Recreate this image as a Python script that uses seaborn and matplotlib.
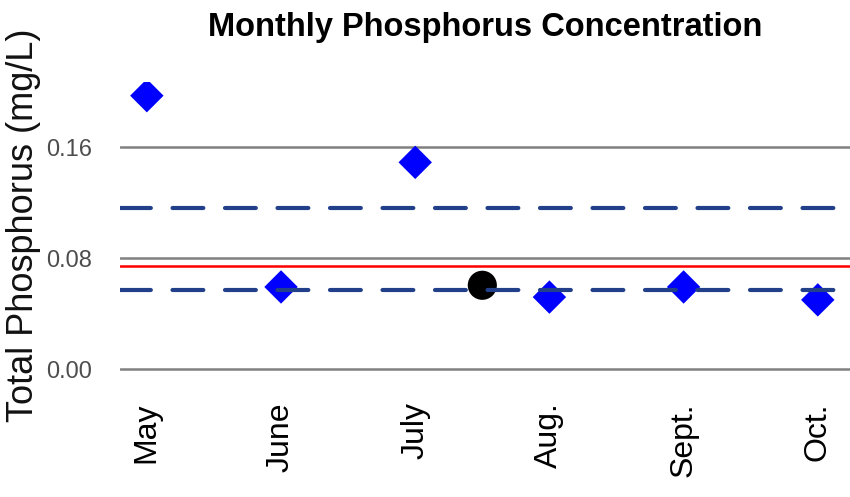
import matplotlib
matplotlib.use("Agg")
import matplotlib.pyplot as plt
import numpy as np
import pandas as pd
import seaborn as sns

# monthly total phosphorus readings (mg/L)
months = ["May", "June", "July", "Aug.", "Sept.", "Oct."]
phosphorus = [0.197, 0.0593, 0.149, 0.052, 0.0593, 0.050]

# season summary point (plotted at the centre of the month axis)
summary_value = 0.0605

# reference lines (mg/L)
standard_line = 0.0745
band_low = 0.0574
band_high = 0.1162

y_ticks = [0.00, 0.08, 0.16]

df = pd.DataFrame({"month": months, "tp": phosphorus})
df["pos"] = np.arange(len(months))

sns.set_theme(style="white")
plt.rcParams["font.family"] = ["Liberation Sans", "DejaVu Sans"]

fig = plt.figure(figsize=(8.5, 4.97), dpi=100)
ax = fig.add_axes([120 / 850, 1 - 383 / 497, 1 - 120 / 850, (383 - 82) / 497])

for y in y_ticks:
    ax.axhline(y, color="#808080", linewidth=1.8, zorder=1)

sns.scatterplot(
    data=df, x="pos", y="tp", marker="D", s=290, color="#0000FF",
    edgecolor="none", ax=ax, zorder=2, legend=False,
)
ax.scatter([df["pos"].median()], [summary_value], s=440, color="black",
           edgecolor="none", zorder=2)

ax.axhline(standard_line, color="#FF0000", linewidth=1.8, zorder=3)
for y in (band_low, band_high):
    ax.axhline(y, color="#22408A", linewidth=3.0, dashes=(7.4, 5.2),
               dash_capstyle="round", zorder=3)

top = max(phosphorus)
ax.set_ylim(-0.05 * top, 1.05 * top)
ax.set_xlim(-0.2, len(months) - 0.76)
ax.set_yticks(y_ticks)
ax.set_yticklabels([f"{v:.2f}" for v in y_ticks], color="#4D4D4D", fontsize=17)
ax.set_xticks(df["pos"])
ax.set_xticklabels(months, rotation=90, fontsize=23, color="black")
ax.tick_params(axis="both", length=0)
ax.tick_params(axis="y", pad=20)
ax.tick_params(axis="x", pad=14)

for side in ax.spines.values():
    side.set_visible(False)

ax.set_xlabel("")
ax.set_ylabel("Total Phosphorus (mg/L)", fontsize=26, color="#111111")
ax.yaxis.set_label_coords(-0.108, 0.525)
ax.set_title("Monthly Phosphorus Concentration", fontsize=23.5,
             fontweight="bold", color="black", pad=33)

fig.savefig("out.png", dpi=100)
